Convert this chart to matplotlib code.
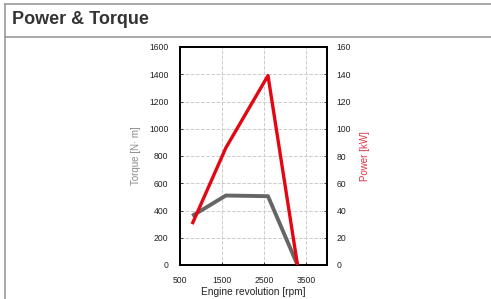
import matplotlib
matplotlib.use('Agg')
import matplotlib.pyplot as plt
from matplotlib.lines import Line2D

# данные
rpm = [800, 1600, 2600, 3300]
torque = [360, 510, 505, 0]
power = [30, 86, 139, 0]

x_ticks = [500, 1500, 2500, 3500]
torque_ticks = list(range(0, 1601, 200))
power_ticks = list(range(0, 161, 20))

fig = plt.figure(figsize=(4.91, 2.99), dpi=100)

# рамка и заголовок
fig.add_artist(Line2D([4.5 / 491, 4.5 / 491], [0, 1 - 3.5 / 299], color='#999999', lw=1.2))
fig.add_artist(Line2D([4.5 / 491, 1], [1 - 3.5 / 299, 1 - 3.5 / 299], color='#999999', lw=1.2))
fig.add_artist(Line2D([4.5 / 491, 1], [1 - 36.5 / 299, 1 - 36.5 / 299], color='#999999', lw=1.2))
fig.text(12 / 491, 1 - 19.5 / 299, 'Power & Torque', fontsize=13, fontweight='bold',
         color='#333333', family='Liberation Sans', va='center', ha='left')

ax = fig.add_axes([179.5 / 491, 1 - 265 / 299, 147.5 / 491, 218 / 299])
ax2 = ax.twinx()

ax.plot(rpm, torque, color='#666666', lw=2.8, solid_capstyle='butt', zorder=3)
ax2.plot(rpm, power, color='#e30613', lw=2.4, solid_capstyle='butt', zorder=3)

ax.set_xlim(500, 4000)
ax.set_ylim(0, 1600)
ax2.set_ylim(0, 160)
ax.set_xticks(x_ticks)
ax.set_yticks(torque_ticks)
ax2.set_yticks(power_ticks)

ax.grid(True, linestyle='--', color='#cccccc', lw=0.7)
ax.set_axisbelow(True)

for a in (ax, ax2):
    for s in a.spines.values():
        s.set_linewidth(1.3)
        s.set_color('black')
    a.tick_params(labelsize=6.2, length=2, width=0.6, direction='in', pad=8,
                  labelfontfamily='Liberation Sans', colors='#222222')
ax.tick_params(axis='x', pad=8)
ax2.tick_params(axis='y', pad=7)

ax.set_ylabel('Torque [N· m]', fontsize=7, color='#888888', family='Liberation Sans', labelpad=6)
ax2.set_ylabel('Power [kW]', fontsize=7, color='#e03040', family='Liberation Sans', labelpad=6)
ax.set_xlabel('Engine revolution [rpm]', fontsize=7.3, color='#222222', family='Liberation Sans', labelpad=1.5)

fig.savefig('out.png', dpi=100)
